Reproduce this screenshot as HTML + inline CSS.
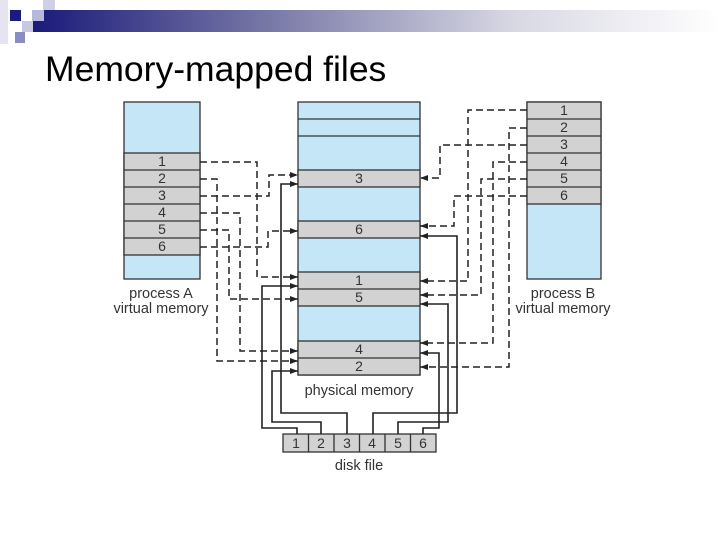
<!DOCTYPE html>
<html><head><meta charset="utf-8"><style>
html,body{margin:0;padding:0;background:#fff;}
body{width:720px;height:540px;overflow:hidden;position:relative;font-family:"Liberation Sans",sans-serif;}
</style></head><body>
<svg width="720" height="540" viewBox="0 0 720 540" xmlns="http://www.w3.org/2000/svg" style="position:absolute;left:0;top:0">
<defs>
<linearGradient id="bar" x1="0" x2="1" y1="0" y2="0">
<stop offset="0" stop-color="#1a1a7a"/><stop offset="0.35" stop-color="#7a7aa8"/><stop offset="0.7" stop-color="#d8d8e4"/><stop offset="1" stop-color="#ffffff"/>
</linearGradient>
<marker id="ar" markerWidth="8" markerHeight="6" refX="8" refY="3" orient="auto" markerUnits="userSpaceOnUse">
<path d="M0,0 L8,3 L0,6 z" fill="#222"/></marker>
</defs>
<rect x="0" y="0" width="8" height="44" fill="#e4e4f2"/>
<rect x="33" y="10" width="687" height="22" fill="url(#bar)"/>
<rect x="43" y="0" width="12" height="10" fill="#cfcfe6"/>
<rect x="10" y="10" width="11" height="11" fill="#1a1a80"/>
<rect x="32" y="10" width="12" height="11" fill="#b8b8dc"/>
<rect x="22" y="21" width="11" height="11" fill="#c8c8e4"/>
<rect x="15" y="32" width="10" height="11" fill="#8c8cc4"/>
<text x="45" y="81" font-size="35.5" fill="#000">Memory-mapped files</text>

<g stroke="#333" stroke-width="1.3">
<rect x="124" y="102" width="76" height="177" fill="#c5e6f6"/>
<rect x="124" y="153" width="76" height="102" fill="#d2d2d2"/>
<line x1="124" y1="170" x2="200" y2="170"/><line x1="124" y1="187" x2="200" y2="187"/>
<line x1="124" y1="204" x2="200" y2="204"/><line x1="124" y1="221" x2="200" y2="221"/>
<line x1="124" y1="238" x2="200" y2="238"/>
<rect x="298" y="102" width="122" height="273" fill="#c5e6f6"/>
<line x1="298" y1="119" x2="420" y2="119"/><line x1="298" y1="136" x2="420" y2="136"/>
<rect x="298" y="170" width="122" height="17" fill="#d2d2d2"/>
<rect x="298" y="221" width="122" height="17" fill="#d2d2d2"/>
<rect x="298" y="272" width="122" height="34" fill="#d2d2d2"/><line x1="298" y1="289" x2="420" y2="289"/>
<rect x="298" y="341" width="122" height="34" fill="#d2d2d2"/><line x1="298" y1="358" x2="420" y2="358"/>
<rect x="527" y="102" width="74" height="177" fill="#c5e6f6"/>
<rect x="527" y="102" width="74" height="102" fill="#d2d2d2"/>
<line x1="527" y1="119" x2="601" y2="119"/><line x1="527" y1="136" x2="601" y2="136"/>
<line x1="527" y1="153" x2="601" y2="153"/><line x1="527" y1="170" x2="601" y2="170"/>
<line x1="527" y1="187" x2="601" y2="187"/>
<rect x="283" y="434" width="153" height="18" fill="#d2d2d2"/>
<line x1="308.5" y1="434" x2="308.5" y2="452"/><line x1="334" y1="434" x2="334" y2="452"/>
<line x1="359.5" y1="434" x2="359.5" y2="452"/><line x1="385" y1="434" x2="385" y2="452"/>
<line x1="410.5" y1="434" x2="410.5" y2="452"/>
</g>

<g font-size="14" fill="#333" text-anchor="middle">
<text x="162" y="166">1</text><text x="162" y="183">2</text><text x="162" y="200">3</text>
<text x="162" y="217">4</text><text x="162" y="234">5</text><text x="162" y="251">6</text>
<text x="359" y="183">3</text><text x="359" y="234">6</text><text x="359" y="285">1</text>
<text x="359" y="302">5</text><text x="359" y="354">4</text><text x="359" y="371">2</text>
<text x="564" y="115">1</text><text x="564" y="132">2</text><text x="564" y="149">3</text>
<text x="564" y="166">4</text><text x="564" y="183">5</text><text x="564" y="200">6</text>
<text x="296" y="448">1</text><text x="321" y="448">2</text><text x="347" y="448">3</text>
<text x="372" y="448">4</text><text x="398" y="448">5</text><text x="423" y="448">6</text>
</g>
<g font-size="14.5" fill="#333" text-anchor="middle">
<text x="161" y="298">process A</text><text x="161" y="313">virtual memory</text>
<text x="563" y="298">process B</text><text x="563" y="313">virtual memory</text>
<text x="359" y="395">physical memory</text>
<text x="359" y="470">disk file</text>
</g>

<g fill="none" stroke="#222" stroke-width="1.5" stroke-dasharray="7,4" marker-end="url(#ar)">
<polyline points="200,162 257,162 257,277 298,277"/>
<polyline points="200,179 217,179 217,361 298,361"/>
<polyline points="200,196 269,196 269,175 298,175"/>
<polyline points="200,213 240,213 240,351 298,351"/>
<polyline points="200,230 229,230 229,299 298,299"/>
<polyline points="200,247 268,247 268,231 298,231"/>
<polyline points="527,110 468,110 468,281 420,281"/>
<polyline points="527,128 509,128 509,367 420,367"/>
<polyline points="527,145 440,145 440,178 420,178"/>
<polyline points="527,162 493,162 493,343 420,343"/>
<polyline points="527,179 481,179 481,295 420,295"/>
<polyline points="527,196 454,196 454,226 420,226"/>
</g>
<g fill="none" stroke="#222" stroke-width="1.6" marker-end="url(#ar)">
<polyline points="297,434 297,428 262,428 262,286 298,286"/>
<polyline points="321,434 321,422 272,422 272,371 298,371"/>
<polyline points="347,434 347,413 281,413 281,184 298,184"/>
<polyline points="373,434 373,413 457,413 457,236 420,236"/>
<polyline points="398,434 398,422 448,422 448,304 420,304"/>
<polyline points="423,434 423,428 439,428 439,353 420,353"/>
</g>
</svg>
</body></html>
